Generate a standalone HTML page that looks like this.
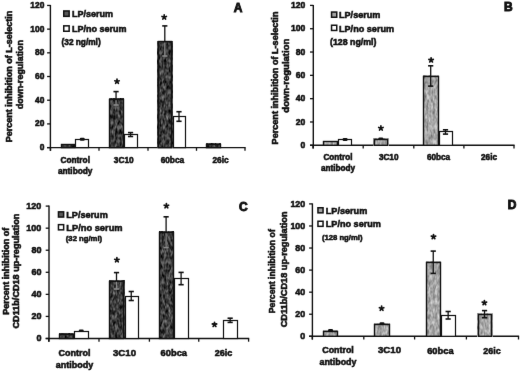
<!DOCTYPE html>
<html><head><meta charset="utf-8"><style>
html,body{margin:0;padding:0;background:#fff;width:520px;height:371px;overflow:hidden}
svg{display:block;filter:grayscale(100%)}
text{font-family:"Liberation Sans",sans-serif;font-weight:bold;fill:#111;stroke:#111;stroke-width:0.55px}
</style></head><body>
<svg width="520" height="371" viewBox="0 0 520 371">
<rect width="520" height="371" fill="#fff"/>
<defs><filter id="bl" x="0" y="0" width="1" height="1" color-interpolation-filters="sRGB"><feConvolveMatrix order="3" kernelMatrix="0.00276 0.04704 0.00276 0.04704 0.80077 0.04704 0.00276 0.04704 0.00276" edgeMode="duplicate"/></filter><filter id="nd" x="0" y="0" width="1" height="1" color-interpolation-filters="sRGB"><feTurbulence type="fractalNoise" baseFrequency="0.45 0.2" numOctaves="2" seed="5"/><feColorMatrix type="matrix" values="0.7869 0 0 0 -0.1542 0.7869 0 0 0 -0.1542 0.7869 0 0 0 -0.1542 0 0 0 0 1"/></filter><filter id="ng" x="0" y="0" width="1" height="1" color-interpolation-filters="sRGB"><feTurbulence type="fractalNoise" baseFrequency="0.45 0.2" numOctaves="2" seed="9"/><feColorMatrix type="matrix" values="0.5902 0 0 0 0.3559 0.5902 0 0 0 0.3559 0.5902 0 0 0 0.3559 0 0 0 0 1"/></filter></defs>
<g filter="url(#bl)">
<rect width="520" height="371" fill="#fff"/>
<line x1="50.40" y1="4.95" x2="50.40" y2="150.80" stroke="#111" stroke-width="1.4"/>
<line x1="47.10" y1="147.60" x2="50.40" y2="147.60" stroke="#111" stroke-width="1.3"/>
<text x="44.30" y="150.12" font-size="8.4" text-anchor="end">0</text>
<line x1="47.10" y1="123.91" x2="50.40" y2="123.91" stroke="#111" stroke-width="1.3"/>
<text x="44.30" y="126.43" font-size="8.4" text-anchor="end">20</text>
<line x1="47.10" y1="100.22" x2="50.40" y2="100.22" stroke="#111" stroke-width="1.3"/>
<text x="44.30" y="102.74" font-size="8.4" text-anchor="end">40</text>
<line x1="47.10" y1="76.52" x2="50.40" y2="76.52" stroke="#111" stroke-width="1.3"/>
<text x="44.30" y="79.04" font-size="8.4" text-anchor="end">60</text>
<line x1="47.10" y1="52.83" x2="50.40" y2="52.83" stroke="#111" stroke-width="1.3"/>
<text x="44.30" y="55.35" font-size="8.4" text-anchor="end">80</text>
<line x1="47.10" y1="29.14" x2="50.40" y2="29.14" stroke="#111" stroke-width="1.3"/>
<text x="44.30" y="31.66" font-size="8.4" text-anchor="end">100</text>
<line x1="47.10" y1="5.45" x2="50.40" y2="5.45" stroke="#111" stroke-width="1.3"/>
<text x="44.30" y="7.97" font-size="8.4" text-anchor="end">120</text>
<line x1="47.10" y1="147.60" x2="245.60" y2="147.60" stroke="#111" stroke-width="1.4"/>
<line x1="50.50" y1="147.60" x2="50.50" y2="150.80" stroke="#111" stroke-width="1.3"/>
<line x1="99.00" y1="147.60" x2="99.00" y2="150.80" stroke="#111" stroke-width="1.3"/>
<line x1="148.00" y1="147.60" x2="148.00" y2="150.80" stroke="#111" stroke-width="1.3"/>
<line x1="196.50" y1="147.60" x2="196.50" y2="150.80" stroke="#111" stroke-width="1.3"/>
<line x1="245.00" y1="147.60" x2="245.00" y2="150.80" stroke="#111" stroke-width="1.3"/>
<rect x="61.00" y="144.00" width="14.00" height="3.60" fill="#000" filter="url(#nd)"/>
<rect x="61.50" y="144.50" width="13.00" height="3.10" fill="none" stroke="#111" stroke-width="1.4"/>
<rect x="75.50" y="139.50" width="13.00" height="8.10" fill="#fff" stroke="#111" stroke-width="1.2"/>
<rect x="79.75" y="137.80" width="5" height="3.00" rx="1.2" fill="#111"/>
<rect x="109.00" y="98.70" width="14.70" height="48.90" fill="#000" filter="url(#nd)"/>
<rect x="109.50" y="99.50" width="14.00" height="48.10" fill="none" stroke="#111" stroke-width="1.4"/>
<line x1="116.05" y1="91.60" x2="116.05" y2="105.00" stroke="#111" stroke-width="1.3"/>
<line x1="113.45" y1="91.60" x2="118.65" y2="91.60" stroke="#111" stroke-width="1.6"/>
<line x1="113.45" y1="105.00" x2="118.65" y2="105.00" stroke="#8a8a8a" stroke-width="1.6"/>
<line x1="116.05" y1="100.20" x2="116.05" y2="105.00" stroke="#8a8a8a" stroke-width="1.3"/>
<rect x="124.50" y="134.50" width="13.00" height="13.10" fill="#fff" stroke="#111" stroke-width="1.2"/>
<line x1="130.55" y1="132.60" x2="130.55" y2="136.50" stroke="#111" stroke-width="1.3"/>
<line x1="127.95" y1="132.60" x2="133.15" y2="132.60" stroke="#111" stroke-width="1.6"/>
<line x1="127.95" y1="136.50" x2="133.15" y2="136.50" stroke="#111" stroke-width="1.6"/>
<rect x="157.60" y="41.00" width="15.00" height="106.60" fill="#000" filter="url(#nd)"/>
<rect x="158.50" y="41.50" width="13.00" height="106.10" fill="none" stroke="#111" stroke-width="1.4"/>
<line x1="164.80" y1="25.90" x2="164.80" y2="56.00" stroke="#111" stroke-width="1.3"/>
<line x1="162.20" y1="25.90" x2="167.40" y2="25.90" stroke="#111" stroke-width="1.6"/>
<line x1="162.20" y1="56.00" x2="167.40" y2="56.00" stroke="#8a8a8a" stroke-width="1.6"/>
<line x1="164.80" y1="42.50" x2="164.80" y2="56.00" stroke="#8a8a8a" stroke-width="1.3"/>
<rect x="173.50" y="116.50" width="12.00" height="31.10" fill="#fff" stroke="#111" stroke-width="1.2"/>
<line x1="179.00" y1="111.70" x2="179.00" y2="121.30" stroke="#111" stroke-width="1.3"/>
<line x1="176.40" y1="111.70" x2="181.60" y2="111.70" stroke="#111" stroke-width="1.6"/>
<line x1="176.40" y1="121.30" x2="181.60" y2="121.30" stroke="#111" stroke-width="1.6"/>
<rect x="206.20" y="143.50" width="14.60" height="4.10" fill="#000" filter="url(#nd)"/>
<rect x="206.50" y="144.50" width="14.00" height="3.10" fill="none" stroke="#111" stroke-width="1.4"/>
<path d="M117.00,81.50L117.00,79.20M117.00,81.50L119.19,80.79M117.00,81.50L118.35,83.36M117.00,81.50L115.65,83.36M117.00,81.50L114.81,80.79" stroke="#111" stroke-width="1.7" stroke-linecap="round" fill="none"/>
<path d="M164.20,17.20L164.20,14.90M164.20,17.20L166.39,16.49M164.20,17.20L165.55,19.06M164.20,17.20L162.85,19.06M164.20,17.20L162.01,16.49" stroke="#111" stroke-width="1.7" stroke-linecap="round" fill="none"/>
<rect x="63.75" y="10.95" width="5.40" height="5.40" fill="#595959" stroke="#111" stroke-width="1.5"/>
<rect x="63.75" y="25.85" width="5.40" height="5.40" fill="#fff" stroke="#111" stroke-width="1.5"/>
<text x="72.00" y="17.00" font-size="9" text-anchor="start">LP/serum</text>
<text x="72.00" y="31.50" font-size="9" text-anchor="start">LP/no serum</text>
<text x="61.50" y="45.00" font-size="8.3" text-anchor="start">(32 ng/ml)</text>
<text x="233.80" y="12.00" font-size="12" text-anchor="start" style="stroke-width:0.9px">A</text>
<text transform="translate(12.00,76.50) rotate(-90)" font-size="9" text-anchor="middle">Percent inhibition of L-selectin</text>
<text transform="translate(23.30,74.60) rotate(-90)" font-size="8.9" text-anchor="middle">down-regulation</text>
<text x="75.20" y="163.00" font-size="8.3" text-anchor="middle">Control</text>
<text x="75.20" y="173.60" font-size="8.3" text-anchor="middle">antibody</text>
<text x="123.75" y="163.00" font-size="8.3" text-anchor="middle">3C10</text>
<text x="172.40" y="163.00" font-size="8.3" text-anchor="middle">60bca</text>
<text x="220.50" y="163.00" font-size="8.3" text-anchor="middle">26ic</text>
<line x1="313.30" y1="4.90" x2="313.30" y2="148.50" stroke="#111" stroke-width="1.4"/>
<line x1="310.00" y1="145.30" x2="313.30" y2="145.30" stroke="#111" stroke-width="1.3"/>
<text x="305.30" y="147.88" font-size="8.6" text-anchor="end">0</text>
<line x1="310.00" y1="121.98" x2="313.30" y2="121.98" stroke="#111" stroke-width="1.3"/>
<text x="305.30" y="124.56" font-size="8.6" text-anchor="end">20</text>
<line x1="310.00" y1="98.67" x2="313.30" y2="98.67" stroke="#111" stroke-width="1.3"/>
<text x="305.30" y="101.25" font-size="8.6" text-anchor="end">40</text>
<line x1="310.00" y1="75.35" x2="313.30" y2="75.35" stroke="#111" stroke-width="1.3"/>
<text x="305.30" y="77.93" font-size="8.6" text-anchor="end">60</text>
<line x1="310.00" y1="52.03" x2="313.30" y2="52.03" stroke="#111" stroke-width="1.3"/>
<text x="305.30" y="54.61" font-size="8.6" text-anchor="end">80</text>
<line x1="310.00" y1="28.72" x2="313.30" y2="28.72" stroke="#111" stroke-width="1.3"/>
<text x="305.30" y="31.30" font-size="8.6" text-anchor="end">100</text>
<line x1="310.00" y1="5.40" x2="313.30" y2="5.40" stroke="#111" stroke-width="1.3"/>
<text x="305.30" y="7.98" font-size="8.6" text-anchor="end">120</text>
<line x1="310.00" y1="145.30" x2="514.60" y2="145.30" stroke="#111" stroke-width="1.4"/>
<line x1="313.00" y1="145.30" x2="313.00" y2="148.50" stroke="#111" stroke-width="1.3"/>
<line x1="363.20" y1="145.30" x2="363.20" y2="148.50" stroke="#111" stroke-width="1.3"/>
<line x1="413.80" y1="145.30" x2="413.80" y2="148.50" stroke="#111" stroke-width="1.3"/>
<line x1="463.90" y1="145.30" x2="463.90" y2="148.50" stroke="#111" stroke-width="1.3"/>
<line x1="514.00" y1="145.30" x2="514.00" y2="148.50" stroke="#111" stroke-width="1.3"/>
<rect x="323.20" y="141.10" width="14.60" height="4.20" fill="#000" filter="url(#ng)"/>
<rect x="323.50" y="141.50" width="14.00" height="3.80" fill="none" stroke="#111" stroke-width="1.4"/>
<rect x="338.50" y="139.50" width="13.00" height="5.80" fill="#fff" stroke="#111" stroke-width="1.2"/>
<rect x="342.60" y="138.00" width="5" height="3.00" rx="1.2" fill="#111"/>
<rect x="373.30" y="138.70" width="15.00" height="6.60" fill="#000" filter="url(#ng)"/>
<rect x="374.50" y="139.50" width="13.00" height="5.80" fill="none" stroke="#111" stroke-width="1.4"/>
<rect x="378.30" y="137.50" width="5" height="2.50" rx="1.2" fill="#111"/>
<rect x="423.00" y="75.60" width="16.00" height="69.70" fill="#000" filter="url(#ng)"/>
<rect x="423.50" y="76.50" width="15.00" height="68.80" fill="none" stroke="#111" stroke-width="1.4"/>
<line x1="430.70" y1="65.80" x2="430.70" y2="86.10" stroke="#111" stroke-width="1.3"/>
<line x1="428.10" y1="65.80" x2="433.30" y2="65.80" stroke="#111" stroke-width="1.6"/>
<line x1="428.10" y1="86.10" x2="433.30" y2="86.10" stroke="#111" stroke-width="1.6"/>
<rect x="439.50" y="131.50" width="13.00" height="13.80" fill="#fff" stroke="#111" stroke-width="1.2"/>
<line x1="445.50" y1="129.80" x2="445.50" y2="134.10" stroke="#111" stroke-width="1.3"/>
<line x1="442.90" y1="129.80" x2="448.10" y2="129.80" stroke="#111" stroke-width="1.6"/>
<line x1="442.90" y1="134.10" x2="448.10" y2="134.10" stroke="#111" stroke-width="1.6"/>
<path d="M380.90,128.20L380.90,125.90M380.90,128.20L383.09,127.49M380.90,128.20L382.25,130.06M380.90,128.20L379.55,130.06M380.90,128.20L378.71,127.49" stroke="#111" stroke-width="1.7" stroke-linecap="round" fill="none"/>
<path d="M431.10,60.10L431.10,57.80M431.10,60.10L433.29,59.39M431.10,60.10L432.45,61.96M431.10,60.10L429.75,61.96M431.10,60.10L428.91,59.39" stroke="#111" stroke-width="1.7" stroke-linecap="round" fill="none"/>
<rect x="331.55" y="12.05" width="5.20" height="5.20" fill="#a3a3a3" stroke="#111" stroke-width="1.5"/>
<rect x="331.55" y="25.25" width="5.20" height="5.20" fill="#fff" stroke="#111" stroke-width="1.5"/>
<text x="339.00" y="18.30" font-size="9.1" text-anchor="start">LP/serum</text>
<text x="339.00" y="31.70" font-size="9.1" text-anchor="start">LP/no serum</text>
<text x="330.00" y="44.50" font-size="8.8" text-anchor="start">(128 ng/ml)</text>
<text x="504.00" y="11.00" font-size="12" text-anchor="start" style="stroke-width:0.9px">B</text>
<text transform="translate(277.50,78.00) rotate(-90)" font-size="9.1" text-anchor="middle">Percent inhibition of L-selectin</text>
<text transform="translate(288.50,75.70) rotate(-90)" font-size="9.5" text-anchor="middle">down-regulation</text>
<text x="338.00" y="160.30" font-size="8.2" text-anchor="middle">Control</text>
<text x="338.00" y="170.90" font-size="8.2" text-anchor="middle">antibody</text>
<text x="388.70" y="160.20" font-size="8.2" text-anchor="middle">3C10</text>
<text x="438.50" y="160.20" font-size="8.2" text-anchor="middle">60bca</text>
<text x="489.00" y="160.20" font-size="8.2" text-anchor="middle">26ic</text>
<line x1="49.00" y1="205.60" x2="49.00" y2="341.70" stroke="#111" stroke-width="1.4"/>
<line x1="45.70" y1="338.50" x2="49.00" y2="338.50" stroke="#111" stroke-width="1.3"/>
<text x="41.40" y="341.20" font-size="9.0" text-anchor="end">0</text>
<line x1="45.70" y1="316.43" x2="49.00" y2="316.43" stroke="#111" stroke-width="1.3"/>
<text x="41.40" y="319.13" font-size="9.0" text-anchor="end">20</text>
<line x1="45.70" y1="294.37" x2="49.00" y2="294.37" stroke="#111" stroke-width="1.3"/>
<text x="41.40" y="297.07" font-size="9.0" text-anchor="end">40</text>
<line x1="45.70" y1="272.30" x2="49.00" y2="272.30" stroke="#111" stroke-width="1.3"/>
<text x="41.40" y="275.00" font-size="9.0" text-anchor="end">60</text>
<line x1="45.70" y1="250.23" x2="49.00" y2="250.23" stroke="#111" stroke-width="1.3"/>
<text x="41.40" y="252.93" font-size="9.0" text-anchor="end">80</text>
<line x1="45.70" y1="228.17" x2="49.00" y2="228.17" stroke="#111" stroke-width="1.3"/>
<text x="41.40" y="230.87" font-size="9.0" text-anchor="end">100</text>
<line x1="45.70" y1="206.10" x2="49.00" y2="206.10" stroke="#111" stroke-width="1.3"/>
<text x="41.40" y="208.80" font-size="9.0" text-anchor="end">120</text>
<line x1="45.70" y1="338.50" x2="249.20" y2="338.50" stroke="#111" stroke-width="1.4"/>
<line x1="48.70" y1="338.50" x2="48.70" y2="341.70" stroke="#111" stroke-width="1.3"/>
<line x1="99.00" y1="338.50" x2="99.00" y2="341.70" stroke="#111" stroke-width="1.3"/>
<line x1="149.40" y1="338.50" x2="149.40" y2="341.70" stroke="#111" stroke-width="1.3"/>
<line x1="198.75" y1="338.50" x2="198.75" y2="341.70" stroke="#111" stroke-width="1.3"/>
<line x1="248.60" y1="338.50" x2="248.60" y2="341.70" stroke="#111" stroke-width="1.3"/>
<rect x="59.20" y="333.50" width="14.60" height="5.00" fill="#000" filter="url(#nd)"/>
<rect x="59.50" y="334.50" width="14.00" height="4.00" fill="none" stroke="#111" stroke-width="1.4"/>
<rect x="74.50" y="331.50" width="14.00" height="7.00" fill="#fff" stroke="#111" stroke-width="1.2"/>
<rect x="78.75" y="329.50" width="5" height="2.50" rx="1.2" fill="#111"/>
<rect x="109.10" y="280.30" width="15.40" height="58.20" fill="#000" filter="url(#nd)"/>
<rect x="109.50" y="281.50" width="14.00" height="57.00" fill="none" stroke="#111" stroke-width="1.4"/>
<line x1="116.50" y1="272.60" x2="116.50" y2="289.00" stroke="#111" stroke-width="1.3"/>
<line x1="113.90" y1="272.60" x2="119.10" y2="272.60" stroke="#111" stroke-width="1.6"/>
<line x1="113.90" y1="289.00" x2="119.10" y2="289.00" stroke="#8a8a8a" stroke-width="1.6"/>
<line x1="116.50" y1="281.80" x2="116.50" y2="289.00" stroke="#8a8a8a" stroke-width="1.3"/>
<rect x="125.50" y="296.50" width="13.00" height="42.00" fill="#fff" stroke="#111" stroke-width="1.2"/>
<line x1="131.25" y1="291.50" x2="131.25" y2="300.50" stroke="#111" stroke-width="1.3"/>
<line x1="128.65" y1="291.50" x2="133.85" y2="291.50" stroke="#111" stroke-width="1.6"/>
<line x1="128.65" y1="300.50" x2="133.85" y2="300.50" stroke="#111" stroke-width="1.6"/>
<rect x="159.10" y="231.70" width="14.60" height="106.80" fill="#000" filter="url(#nd)"/>
<rect x="159.50" y="232.50" width="14.00" height="106.00" fill="none" stroke="#111" stroke-width="1.4"/>
<line x1="166.10" y1="216.80" x2="166.10" y2="247.60" stroke="#111" stroke-width="1.3"/>
<line x1="163.50" y1="216.80" x2="168.70" y2="216.80" stroke="#111" stroke-width="1.6"/>
<line x1="163.50" y1="247.60" x2="168.70" y2="247.60" stroke="#8a8a8a" stroke-width="1.6"/>
<line x1="166.10" y1="233.20" x2="166.10" y2="247.60" stroke="#8a8a8a" stroke-width="1.3"/>
<rect x="174.50" y="278.50" width="14.00" height="60.00" fill="#fff" stroke="#111" stroke-width="1.2"/>
<line x1="181.10" y1="272.40" x2="181.10" y2="284.70" stroke="#111" stroke-width="1.3"/>
<line x1="178.50" y1="272.40" x2="183.70" y2="272.40" stroke="#111" stroke-width="1.6"/>
<line x1="178.50" y1="284.70" x2="183.70" y2="284.70" stroke="#111" stroke-width="1.6"/>
<rect x="223.50" y="320.50" width="14.00" height="18.00" fill="#fff" stroke="#111" stroke-width="1.2"/>
<line x1="230.15" y1="318.20" x2="230.15" y2="322.40" stroke="#111" stroke-width="1.3"/>
<line x1="227.55" y1="318.20" x2="232.75" y2="318.20" stroke="#111" stroke-width="1.6"/>
<line x1="227.55" y1="322.40" x2="232.75" y2="322.40" stroke="#111" stroke-width="1.6"/>
<path d="M116.90,260.00L116.90,257.70M116.90,260.00L119.09,259.29M116.90,260.00L118.25,261.86M116.90,260.00L115.55,261.86M116.90,260.00L114.71,259.29" stroke="#111" stroke-width="1.7" stroke-linecap="round" fill="none"/>
<path d="M166.40,205.90L166.40,203.60M166.40,205.90L168.59,205.19M166.40,205.90L167.75,207.76M166.40,205.90L165.05,207.76M166.40,205.90L164.21,205.19" stroke="#111" stroke-width="1.7" stroke-linecap="round" fill="none"/>
<path d="M214.50,324.60L214.50,322.30M214.50,324.60L216.69,323.89M214.50,324.60L215.85,326.46M214.50,324.60L213.15,326.46M214.50,324.60L212.31,323.89" stroke="#111" stroke-width="1.7" stroke-linecap="round" fill="none"/>
<rect x="58.45" y="211.85" width="5.20" height="5.20" fill="#595959" stroke="#111" stroke-width="1.5"/>
<rect x="58.45" y="224.65" width="5.20" height="5.20" fill="#fff" stroke="#111" stroke-width="1.5"/>
<text x="66.30" y="217.70" font-size="9.1" text-anchor="start">LP/serum</text>
<text x="66.30" y="230.60" font-size="9.3" text-anchor="start">LP/no serum</text>
<text x="65.80" y="241.30" font-size="7.7" text-anchor="start">(32 ng/ml)</text>
<text x="239.00" y="210.80" font-size="12" text-anchor="start" style="stroke-width:0.9px">C</text>
<text transform="translate(8.60,271.20) rotate(-90)" font-size="9" text-anchor="middle">Percent inhibition of</text>
<text transform="translate(18.80,271.10) rotate(-90)" font-size="9.1" text-anchor="middle">CD11b/CD18 up-regulation</text>
<text x="74.50" y="355.90" font-size="9" text-anchor="middle">Control</text>
<text x="74.50" y="368.20" font-size="9" text-anchor="middle">antibody</text>
<text x="124.50" y="355.90" font-size="9.6" text-anchor="middle">3C10</text>
<text x="173.80" y="355.90" font-size="9.3" text-anchor="middle">60bca</text>
<text x="223.50" y="355.90" font-size="9" text-anchor="middle">26ic</text>
<line x1="312.40" y1="203.40" x2="312.40" y2="339.50" stroke="#111" stroke-width="1.4"/>
<line x1="309.10" y1="336.30" x2="312.40" y2="336.30" stroke="#111" stroke-width="1.3"/>
<text x="305.20" y="338.97" font-size="8.9" text-anchor="end">0</text>
<line x1="309.10" y1="314.23" x2="312.40" y2="314.23" stroke="#111" stroke-width="1.3"/>
<text x="305.20" y="316.90" font-size="8.9" text-anchor="end">20</text>
<line x1="309.10" y1="292.17" x2="312.40" y2="292.17" stroke="#111" stroke-width="1.3"/>
<text x="305.20" y="294.84" font-size="8.9" text-anchor="end">40</text>
<line x1="309.10" y1="270.10" x2="312.40" y2="270.10" stroke="#111" stroke-width="1.3"/>
<text x="305.20" y="272.77" font-size="8.9" text-anchor="end">60</text>
<line x1="309.10" y1="248.03" x2="312.40" y2="248.03" stroke="#111" stroke-width="1.3"/>
<text x="305.20" y="250.70" font-size="8.9" text-anchor="end">80</text>
<line x1="309.10" y1="225.97" x2="312.40" y2="225.97" stroke="#111" stroke-width="1.3"/>
<text x="305.20" y="228.64" font-size="8.9" text-anchor="end">100</text>
<line x1="309.10" y1="203.90" x2="312.40" y2="203.90" stroke="#111" stroke-width="1.3"/>
<text x="305.20" y="206.57" font-size="8.9" text-anchor="end">120</text>
<line x1="309.10" y1="336.30" x2="519.10" y2="336.30" stroke="#111" stroke-width="1.4"/>
<line x1="312.30" y1="336.30" x2="312.30" y2="339.50" stroke="#111" stroke-width="1.3"/>
<line x1="363.80" y1="336.30" x2="363.80" y2="339.50" stroke="#111" stroke-width="1.3"/>
<line x1="414.60" y1="336.30" x2="414.60" y2="339.50" stroke="#111" stroke-width="1.3"/>
<line x1="466.40" y1="336.30" x2="466.40" y2="339.50" stroke="#111" stroke-width="1.3"/>
<line x1="518.50" y1="336.30" x2="518.50" y2="339.50" stroke="#111" stroke-width="1.3"/>
<rect x="323.20" y="330.30" width="14.70" height="6.00" fill="#000" filter="url(#ng)"/>
<rect x="323.50" y="331.50" width="14.00" height="4.80" fill="none" stroke="#111" stroke-width="1.4"/>
<rect x="328.05" y="329.00" width="5" height="2.50" rx="1.2" fill="#111"/>
<rect x="374.20" y="323.40" width="15.60" height="12.90" fill="#000" filter="url(#ng)"/>
<rect x="374.50" y="324.50" width="15.00" height="11.80" fill="none" stroke="#111" stroke-width="1.4"/>
<rect x="379.50" y="322.20" width="5" height="2.80" rx="1.2" fill="#111"/>
<rect x="426.10" y="261.60" width="14.90" height="74.70" fill="#000" filter="url(#ng)"/>
<rect x="426.50" y="262.50" width="14.00" height="73.80" fill="none" stroke="#111" stroke-width="1.4"/>
<line x1="433.25" y1="251.10" x2="433.25" y2="273.40" stroke="#111" stroke-width="1.3"/>
<line x1="430.65" y1="251.10" x2="435.85" y2="251.10" stroke="#111" stroke-width="1.6"/>
<line x1="430.65" y1="273.40" x2="435.85" y2="273.40" stroke="#111" stroke-width="1.6"/>
<rect x="441.50" y="315.50" width="14.00" height="20.80" fill="#fff" stroke="#111" stroke-width="1.2"/>
<line x1="448.15" y1="311.50" x2="448.15" y2="319.00" stroke="#111" stroke-width="1.3"/>
<line x1="445.55" y1="311.50" x2="450.75" y2="311.50" stroke="#111" stroke-width="1.6"/>
<line x1="445.55" y1="319.00" x2="450.75" y2="319.00" stroke="#111" stroke-width="1.6"/>
<rect x="477.60" y="313.70" width="14.50" height="22.60" fill="#000" filter="url(#ng)"/>
<rect x="478.50" y="314.50" width="13.00" height="21.80" fill="none" stroke="#111" stroke-width="1.4"/>
<line x1="484.55" y1="310.60" x2="484.55" y2="317.70" stroke="#111" stroke-width="1.3"/>
<line x1="481.95" y1="310.60" x2="487.15" y2="310.60" stroke="#111" stroke-width="1.6"/>
<line x1="481.95" y1="317.70" x2="487.15" y2="317.70" stroke="#111" stroke-width="1.6"/>
<path d="M381.60,308.40L381.60,306.10M381.60,308.40L383.79,307.69M381.60,308.40L382.95,310.26M381.60,308.40L380.25,310.26M381.60,308.40L379.41,307.69" stroke="#111" stroke-width="1.7" stroke-linecap="round" fill="none"/>
<path d="M433.50,236.80L433.50,234.50M433.50,236.80L435.69,236.09M433.50,236.80L434.85,238.66M433.50,236.80L432.15,238.66M433.50,236.80L431.31,236.09" stroke="#111" stroke-width="1.7" stroke-linecap="round" fill="none"/>
<path d="M484.40,302.80L484.40,300.50M484.40,302.80L486.59,302.09M484.40,302.80L485.75,304.66M484.40,302.80L483.05,304.66M484.40,302.80L482.21,302.09" stroke="#111" stroke-width="1.7" stroke-linecap="round" fill="none"/>
<rect x="317.95" y="207.75" width="5.10" height="5.10" fill="#a3a3a3" stroke="#111" stroke-width="1.5"/>
<rect x="317.95" y="221.25" width="5.10" height="5.10" fill="#fff" stroke="#111" stroke-width="1.5"/>
<text x="325.80" y="213.70" font-size="9.1" text-anchor="start">LP/serum</text>
<text x="325.80" y="227.10" font-size="9.1" text-anchor="start">LP/no serum</text>
<text x="321.90" y="240.20" font-size="7.7" text-anchor="start">(128 ng/ml)</text>
<text x="507.70" y="208.70" font-size="12" text-anchor="start" style="stroke-width:0.9px">D</text>
<text transform="translate(275.20,271.20) rotate(-90)" font-size="8.7" text-anchor="middle">Percent inhibition of</text>
<text transform="translate(286.50,269.40) rotate(-90)" font-size="9.2" text-anchor="middle">CD11b/CD18 up-regulation</text>
<text x="338.00" y="353.30" font-size="8.9" text-anchor="middle">Control</text>
<text x="338.00" y="365.20" font-size="8.9" text-anchor="middle">antibody</text>
<text x="389.50" y="353.40" font-size="9.6" text-anchor="middle">3C10</text>
<text x="440.40" y="353.80" font-size="9.3" text-anchor="middle">60bca</text>
<text x="492.00" y="353.80" font-size="8.9" text-anchor="middle">26ic</text>
</g>
</svg>
</body></html>
